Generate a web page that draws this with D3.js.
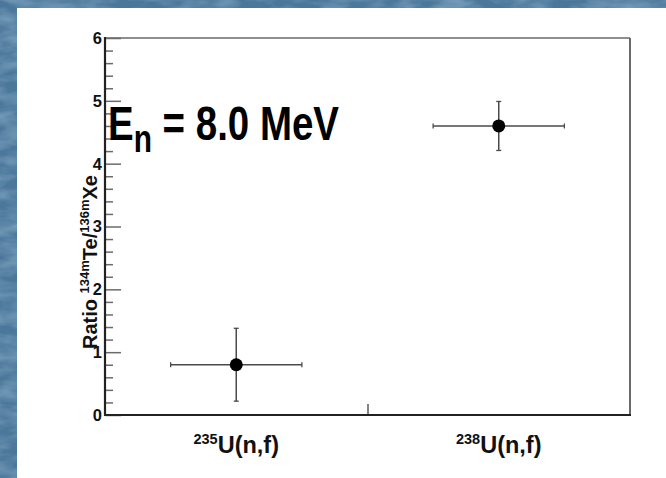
<!DOCTYPE html>
<html>
<head>
<meta charset="utf-8">
<script src="https://cdn.jsdelivr.net/npm/d3@7"></script>
<style>
  html, body { margin: 0; padding: 0; background: #ffffff; overflow: hidden; }
  svg { display: block; }
  text { font-family: "Liberation Sans", Arial, Helvetica, sans-serif; font-weight: bold; }
</style>
</head>
<body>
<svg id="chart" width="666" height="478"></svg>
<script>
// Reaction channels (isotope mass number + reaction) on the x axis
const isotopes = ["235", "238"];
const reactions = ["U(n,f)", "U(n,f)"];
// Isomeric yield ratio 134mTe/136mXe and its uncertainty
const ratio = [0.8, 4.6];
const ratioErr = [0.58, 0.39];
// Half-width of the horizontal bar, in category units
const binHalf = [0.25, 0.25];
const yTicks = [0, 1, 2, 3, 4, 5, 6];

const W = 666, H = 478;
const svg = d3.select("#chart");

// white canvas
svg.append("rect").attr("width", W).attr("height", H).attr("fill", "#ffffff");

// textured blue border along the left and top edges
const defs = svg.append("defs");
const f = defs.append("filter").attr("id", "grain");
f.append("feTurbulence").attr("type", "fractalNoise").attr("baseFrequency", "0.03 0.08").attr("numOctaves", 3).attr("seed", 7).attr("result", "n");
f.append("feColorMatrix").attr("in", "n").attr("type", "matrix")
  .attr("values", "0 0 0 0 0.24  0 0 0 0 0.42  0 0 0 0 0.58  0 0 0 1.2 -0.4").attr("result", "c");
f.append("feComposite").attr("in", "c").attr("in2", "SourceGraphic").attr("operator", "in").attr("result", "m");
f.append("feMerge").selectAll("feMergeNode").data(["SourceGraphic", "m"]).join("feMergeNode").attr("in", d => d);

svg.append("rect").attr("x", 0).attr("y", 0).attr("width", 17).attr("height", H).attr("fill", "#4c779b").attr("filter", "url(#grain)");
svg.append("rect").attr("x", 0).attr("y", 0).attr("width", W).attr("height", 8).attr("fill", "#4c779b").attr("filter", "url(#grain)");

const frame = { left: 105, right: 630, top: 38, bottom: 415 };

const x = d3.scaleLinear().domain([0, isotopes.length]).range([frame.left, frame.right]);
const y = d3.scaleLinear().domain([0, 6]).range([frame.bottom, frame.top]);

// top and right frame lines
svg.append("line").attr("x1", frame.left).attr("x2", frame.right).attr("y1", frame.top).attr("y2", frame.top)
  .attr("stroke", "#6a6a6a").attr("stroke-width", 1.6);
svg.append("line").attr("x1", frame.right).attr("x2", frame.right).attr("y1", frame.top).attr("y2", frame.bottom)
  .attr("stroke", "#5a5a5a").attr("stroke-width", 1.8);

// y axis: major ticks at integers, four minor ticks between
const minor = d3.range(0, 6.0001, 0.2).filter(v => Math.abs(v - Math.round(v)) > 1e-6);
const yAxis = d3.axisRight(y).tickValues(yTicks).tickSize(16).tickFormat("");
const gy = svg.append("g").attr("transform", `translate(${frame.left},0)`).call(yAxis);
gy.selectAll(".tick line").attr("stroke", "#6b6b6b").attr("stroke-width", 1.5);
gy.select(".domain").remove();
const yMinor = d3.axisRight(y).tickValues(minor).tickSize(8).tickFormat("");
const gym = svg.append("g").attr("transform", `translate(${frame.left},0)`).call(yMinor);
gym.selectAll(".tick line").attr("stroke", "#6b6b6b").attr("stroke-width", 1.5);
gym.select(".domain").remove();

svg.append("g").selectAll("text").data(yTicks).join("text")
  .attr("x", frame.left - 3).attr("y", d => y(d)).attr("dy", "0.36em")
  .attr("text-anchor", "end").attr("font-size", 16.5).attr("fill", "#111")
  .text(d => d);

// x axis: single separator tick between categories
const xAxis = d3.axisTop(x).tickValues(d3.range(1, isotopes.length)).tickSize(11).tickFormat("");
const gx = svg.append("g").attr("transform", `translate(0,${frame.bottom})`).call(xAxis);
gx.selectAll(".tick line").attr("stroke", "#777").attr("stroke-width", 1.8);
gx.select(".domain").remove();

// axis lines
svg.append("line").attr("x1", frame.left).attr("x2", frame.left).attr("y1", frame.top - 1).attr("y2", frame.bottom + 1)
  .attr("stroke", "#222").attr("stroke-width", 2.2);
svg.append("line").attr("x1", frame.left - 1).attr("x2", frame.right + 1).attr("y1", frame.bottom).attr("y2", frame.bottom)
  .attr("stroke", "#222").attr("stroke-width", 2.2);

// category labels
const xl = svg.append("g").selectAll("text").data(isotopes).join("text")
  .attr("x", (d, i) => x(i + 0.5)).attr("y", 453)
  .attr("text-anchor", "middle").attr("fill", "#111");
xl.append("tspan").attr("font-size", 14.5).attr("dy", -9).text(d => d);
xl.append("tspan").attr("font-size", 23.5).attr("dy", 9).text((d, i) => reactions[i]);

// y axis title
const yt = svg.append("text")
  .attr("transform", `translate(97,262) rotate(-90)`)
  .attr("text-anchor", "middle").attr("fill", "#111").attr("font-size", 20);
yt.append("tspan").text("Ratio ");
yt.append("tspan").attr("font-size", 13).attr("dy", -8).text("134m");
yt.append("tspan").attr("dy", 8).text("Te/");
yt.append("tspan").attr("font-size", 13).attr("dy", -8).text("136m");
yt.append("tspan").attr("dy", 8).text("Xe");

// data points with error bars
const pts = ratio.map((v, i) => ({ cx: i + 0.5, v, e: ratioErr[i], h: binHalf[i] }));
const gp = svg.append("g");
const barCol = "#4a4a4a";
pts.forEach(p => {
  gp.append("line").attr("x1", x(p.cx - p.h)).attr("x2", x(p.cx + p.h)).attr("y1", y(p.v)).attr("y2", y(p.v))
    .attr("stroke", barCol).attr("stroke-width", 1.5);
  gp.append("line").attr("x1", x(p.cx)).attr("x2", x(p.cx)).attr("y1", y(p.v - p.e)).attr("y2", y(p.v + p.e))
    .attr("stroke", barCol).attr("stroke-width", 1.5);
  [p.cx - p.h, p.cx + p.h].forEach(xx => {
    gp.append("line").attr("x1", x(xx)).attr("x2", x(xx)).attr("y1", y(p.v) - 2.5).attr("y2", y(p.v) + 2.5)
      .attr("stroke", barCol).attr("stroke-width", 1.3);
  });
  [p.v - p.e, p.v + p.e].forEach(yy => {
    gp.append("line").attr("x1", x(p.cx) - 2.5).attr("x2", x(p.cx) + 2.5).attr("y1", y(yy)).attr("y2", y(yy))
      .attr("stroke", barCol).attr("stroke-width", 1.3);
  });
  gp.append("circle").attr("cx", x(p.cx)).attr("cy", y(p.v)).attr("r", 6.5).attr("fill", "#000");
});

// beam energy annotation, condensed bold lettering
const at = svg.append("text").attr("x", 108).attr("y", 140).attr("font-size", 49).attr("fill", "#000")
  .attr("textLength", 231).attr("lengthAdjust", "spacingAndGlyphs");
at.append("tspan").text("E");
at.append("tspan").attr("font-size", 38).attr("dy", 12).text("n");
at.append("tspan").attr("dy", -12).text(" = 8.0 MeV");
</script>
</body>
</html>
